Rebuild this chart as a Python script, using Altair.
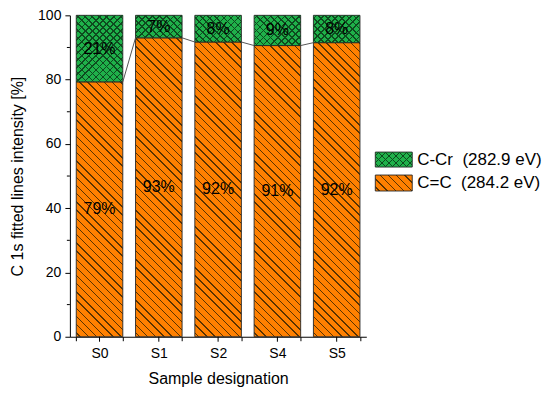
import math
import altair as alt

# ---- data ----
samples = ["S0", "S1", "S2", "S4", "S5"]
cc_values = [79.3, 93.0, 91.7, 90.6, 91.5]     # C=C (284.2 eV) share, %
ccr_values = [20.7, 7.0, 8.3, 9.4, 8.5]        # C-Cr (282.9 eV) share, %
series_names = ["C=C", "C-Cr"]
legend_labels = ["C-Cr\u00a0\u00a0(282.9 eV)", "C=C\u00a0\u00a0(284.2 eV)"]
y_ticks = [0, 20, 40, 60, 80, 100]
y_minor = [10, 30, 50, 70, 90]

# ---- layout / style ----
W, H = 297, 322
PI = 0.215
PO = PI / 2
step = W / (len(samples) - PI + 2 * PO)
BW = step * (1 - PI)
ORANGE = "#FF8000"
GREEN = "#1FB14A"
EDGE = "#262626"
HATCH_O = "#5a3300"
HATCH_G = "#0e4a1f"
CLEAR = "rgba(0,0,0,0)"
FONT = "Liberation Sans"


def hatch(w, h, bg, line, spacing, lw, direction):
    """Linear gradient with many hard stops that draws 45-degree stripes."""
    L = (w + h) / math.sqrt(2)
    f = (1 / h + 1 / w) / (1 / h ** 2 + 1 / w ** 2)
    if direction == "back":       # '\' stripes
        x1, y1, x2, y2 = 0, 1, f / h, 1 - f / w
    else:                         # '/' stripes
        x1, y1, x2, y2 = 0, 0, f / h, f / w
    stops = [{"offset": 0, "color": bg}]
    c = spacing / 2
    while c < L:
        a = max(0.0, (c - lw / 2) / L)
        b = min(1.0, (c + lw / 2) / L)
        stops += [{"offset": a, "color": bg}, {"offset": a, "color": line},
                  {"offset": b, "color": line}, {"offset": b, "color": bg}]
        c += spacing
    stops.append({"offset": 1, "color": bg})
    return {"gradient": "linear", "x1": x1, "y1": y1, "x2": x2, "y2": y2, "stops": stops}


def px(v):
    return v * H / 100.0


rows, overlay = [], []
for s, cc, cr in zip(samples, cc_values, ccr_values):
    rows.append({"sample": s, "series": series_names[0], "y0": 0, "y1": cc,
                 "mid": cc / 2, "label": f"{round(cc)}%",
                 "grad": hatch(BW, px(cc), ORANGE, HATCH_O, 5.8, 1.0, "back")})
    rows.append({"sample": s, "series": series_names[1], "y0": cc, "y1": cc + cr,
                 "mid": cc + cr / 2, "label": f"{round(cr)}%",
                 "grad": hatch(BW, px(cr), GREEN, HATCH_G, 5.0, 1.0, "back")})
    overlay.append({"sample": s, "y0": cc, "y1": cc + cr,
                    "grad": hatch(BW, px(cr), CLEAR, HATCH_G, 5.0, 1.0, "fwd")})

links = [{"sample": samples[i], "next": samples[i + 1],
          "v": cc_values[i], "nv": cc_values[i + 1]} for i in range(len(samples) - 1)]

xscale = alt.Scale(domain=samples, paddingInner=PI, paddingOuter=PO)
yscale = alt.Scale(domain=[0, 100], nice=False)

x_enc = alt.X("sample:N", scale=xscale,
              axis=alt.Axis(title="Sample designation", labelAngle=0, tickBand="extent",
                            tickSize=4, labelPadding=6, titlePadding=10))
y_enc = alt.Y("y0:Q", scale=yscale,
              axis=alt.Axis(title="C 1s fitted lines intensity [%]", values=y_ticks,
                            tickSize=5, labelPadding=4, titlePadding=12))

bars = alt.Chart(alt.Data(values=rows)).mark_bar(stroke=EDGE, strokeWidth=0.9).encode(
    x=x_enc, y=y_enc, y2="y1:Q", fill=alt.Fill("grad:N", scale=None)
)
cross = alt.Chart(alt.Data(values=overlay)).mark_bar(strokeWidth=0).encode(
    x=alt.X("sample:N", scale=xscale), y=alt.Y("y0:Q", scale=yscale), y2="y1:Q",
    fill=alt.Fill("grad:N", scale=None)
)
labels = alt.Chart(alt.Data(values=rows)).mark_text(font=FONT, fontSize=16, color="black").encode(
    x=alt.X("sample:N", scale=xscale), y=alt.Y("mid:Q", scale=yscale), text="label:N"
)
connect = alt.Chart(alt.Data(values=links)).mark_rule(
    color="#555555", strokeWidth=1, xOffset=BW / 2, x2Offset=-BW / 2
).encode(
    x=alt.X("sample:N", scale=xscale), x2="next:N",
    y=alt.Y("v:Q", scale=yscale), y2="nv:Q"
)
xmajor = alt.Chart(alt.Data(values=[{"sample": s} for s in samples])).mark_rule(
    color="black", strokeWidth=1
).encode(x=alt.X("sample:N", scale=xscale), y=alt.value(H), y2=alt.value(H + 5))
yminor = alt.Chart(alt.Data(values=[{"t": t} for t in y_minor])).mark_rule(
    color="black", strokeWidth=1
).encode(y=alt.Y("t:Q", scale=yscale), x=alt.value(-3), x2=alt.value(0))

# legend (drawn by hand so the swatches carry the hatch patterns)
SW_X0, SW_X1 = 306, 343
leg_rows = [(legend_labels[0], 137, 152, hatch(37, 15, GREEN, HATCH_G, 5.0, 1.0, "back"),
             hatch(37, 15, CLEAR, HATCH_G, 5.0, 1.0, "fwd")),
            (legend_labels[1], 160, 176, hatch(37, 16, ORANGE, HATCH_O, 5.8, 1.0, "back"), None)]
legend_layers = []
for lab, t0, t1, g1, g2 in leg_rows:
    d = alt.Data(values=[{"label": lab}])
    legend_layers.append(alt.Chart(d).mark_rect(stroke=EDGE, strokeWidth=0.9).encode(
        x=alt.value(SW_X0), x2=alt.value(SW_X1), y=alt.value(t0), y2=alt.value(t1),
        fill=alt.value(g1)))
    if g2 is not None:
        legend_layers.append(alt.Chart(d).mark_rect(strokeWidth=0).encode(
            x=alt.value(SW_X0), x2=alt.value(SW_X1), y=alt.value(t0), y2=alt.value(t1),
            fill=alt.value(g2)))
    legend_layers.append(alt.Chart(d).mark_text(
        font=FONT, fontSize=17, align="left", baseline="middle", color="black"
    ).encode(x=alt.value(348), y=alt.value((t0 + t1) / 2), text="label:N"))

chart = alt.layer(bars, cross, connect, labels, xmajor, yminor, *legend_layers).properties(
    width=W, height=H,
    autosize=alt.AutoSizeParams(type="none"),
    padding={"left": 62, "top": 7, "right": 176, "bottom": 52},
).configure_view(stroke=None).configure_axis(
    grid=False, domainColor="black", tickColor="black", labelColor="black",
    titleColor="black", labelFont=FONT, titleFont=FONT, labelFontSize=14,
    titleFontSize=16, titleFontWeight="normal", domainWidth=1, tickWidth=1
)

chart.save("out.html", embed_options={"renderer": "svg", "actions": False})
